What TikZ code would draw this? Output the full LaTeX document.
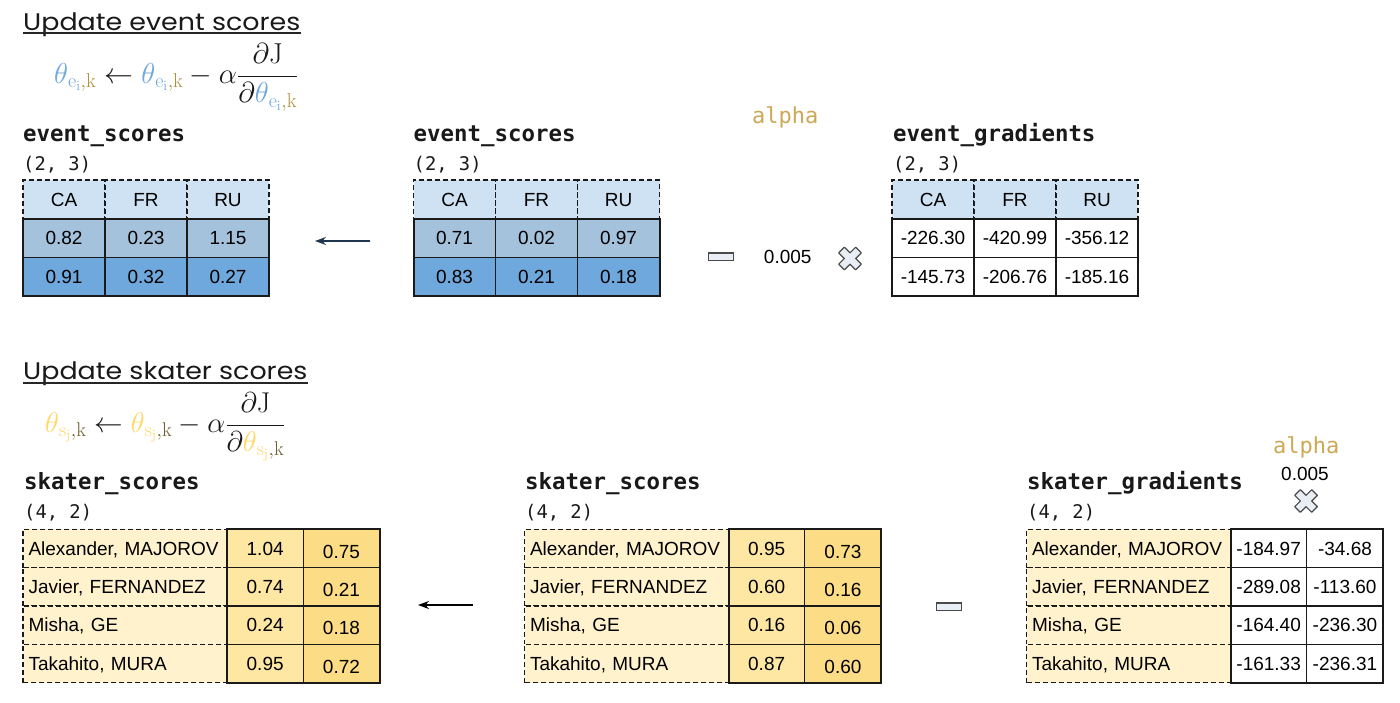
\documentclass[tikz,border=0pt]{standalone}
\usepackage[no-math]{fontspec}
\setmainfont{Liberation Sans}
\setmonofont{DejaVu Sans Mono}
\newfontfamily\titlefont{Poppins}
\usetikzlibrary{arrows.meta}
\definecolor{hdr}{HTML}{CFE2F3}
\definecolor{rowa}{HTML}{A5C2DD}
\definecolor{rowb}{HTML}{6FA8DC}
\definecolor{namec}{HTML}{FFF2CC}
\definecolor{vala}{HTML}{FDE7A2}
\definecolor{valb}{HTML}{FCDC84}
\definecolor{linec}{HTML}{1A1A1A}
\definecolor{evb}{HTML}{6FA8DC}
\definecolor{evk}{HTML}{AD8F36}
\definecolor{skb}{HTML}{FFD966}
\definecolor{skk}{HTML}{6B5A2A}
\definecolor{alphac}{HTML}{CDA955}
\definecolor{navy}{HTML}{1F3550}
\definecolor{opfill}{HTML}{E8EEF3}
\definecolor{opline}{HTML}{4A4A4A}
\newcommand{\tabfnt}{\fontsize{19}{22}\selectfont}
\newcommand{\varfnt}{\ttfamily\bfseries\fontsize{22.4}{26}\selectfont}
\newcommand{\shpfnt}{\ttfamily\fontsize{18.8}{22}\selectfont}
\newcommand{\alpfnt}{\ttfamily\fontsize{22}{26}\selectfont}
\newcommand{\tev}{\textcolor{evb}{\theta}_{\textcolor{evb}{\mathrm{e}_\mathrm{i}}\textcolor{evk}{,\mathrm{k}}}}
\newcommand{\tsk}{\textcolor{skb}{\theta}_{\textcolor{skb}{\mathrm{s}_\mathrm{j}}\textcolor{skk}{,\mathrm{k}}}}
\newcommand{\evhead}[2]{%
  \node[hdrcell] (#1h1) at ({#2+41},199.3) {CA};
  \node[hdrcell] (#1h2) at ({#2+123},199.3) {FR};
  \node[hdrcell] (#1h3) at ({#2+205},199.3) {RU};}
\newcommand{\evrow}[8]{%
  \node[#5] (#1r#2c1) at ({#3+41},#4) {#6};
  \node[#5] (#1r#2c2) at ({#3+123},#4) {#7};
  \node[#5] (#1r#2c3) at ({#3+205},#4) {#8};}
\newcommand{\skrow}[8]{%
  \node[namecell] (#1n#2) at ({#3+102},#4) {#6};
  \node[valA] (#1a#2) at ({#3+242.15},#4) {#7};
  \node[#5] (#1b#2) at ({#3+318.45},#4) {#8};}
\tikzset{
  cellbase/.style={minimum width=82pt, minimum height=38.67pt, inner sep=0pt, outer sep=0pt,
    font=\tabfnt, text height=13.6pt, text depth=0pt},
  hdrcell/.style={cellbase, fill=hdr, draw=linec, line width=1.3pt, dash pattern=on 5pt off 3pt},
  rowA/.style={cellbase, fill=rowa, draw=linec, line width=1.2pt},
  rowB/.style={cellbase, fill=rowb, draw=linec, line width=1.2pt},
  rowW/.style={cellbase, fill=white, draw=linec, line width=1.2pt},
  blockborder/.style={draw=linec, line width=2pt},
  namecell/.style={cellbase, minimum width=204pt, minimum height=38.3pt, fill=namec, draw=linec,
    line width=1.3pt, dash pattern=on 5pt off 3pt, text width=193pt, align=left, inner xsep=5.5pt},
  valA/.style={cellbase, minimum width=76.3pt, minimum height=38.3pt, fill=vala, draw=linec, line width=1.2pt},
  valB/.style={valA, fill=valb, text height=19.6pt},
  valW/.style={valA, fill=white},
  varname/.style={anchor=base west, inner sep=0pt, font=\varfnt, text=black!90},
  shapelbl/.style={anchor=base west, inner sep=0pt, font=\shpfnt, text=black!90},
  alphalbl/.style={anchor=base west, inner sep=0pt, font=\alpfnt, text=alphac},
  numlbl/.style={anchor=base, inner sep=0pt, font=\tabfnt},
  titlenode/.style={anchor=base west, inner sep=0pt, font=\titlefont\fontsize{24}{28}\selectfont, text=black!90},
  underl/.style={line width=1.8pt, draw=black!85},
  formula/.style={anchor=base west, inner sep=0pt, font=\fontsize{24}{28}\selectfont, text=black!90},
  arr/.style={line width=1.3pt, -{Stealth[length=11pt,width=8pt]}},
  minusbox/.style={draw=opline, fill=opfill, line width=1.3pt, minimum width=25pt, minimum height=7.5pt, inner sep=0pt},
  crossshape/.style={draw=opline, fill=opfill, line width=1.2pt, line join=round}
}
\begin{document}
\begin{tikzpicture}[x=1pt,y=-1pt]
\useasboundingbox (0,0) rectangle (1400,702);
\fill[white] (0,0) rectangle (1400,702);

% ---------------- top section ----------------
\node[titlenode] (t1) at (23,30) {\scalebox{1.12}[1]{Update event scores}};
\draw[underl] ([yshift=-3.3pt]t1.base west) -- ([yshift=-3.3pt]t1.base east);
\node[formula] (f1) at (54,83) {\scalebox{1.16}{$\displaystyle \tev \leftarrow \tev - \alpha\frac{\partial\mathrm{J}}{\partial\tev}$}};

% table 1
\node[varname] (v1) at (23,141.5) {event\_scores};
\node[shapelbl] (s1) at (23,170) {(2, 3)};
\evhead{A}{23}
\evrow{A}{1}{23}{238}{rowA}{0.82}{0.23}{1.15}
\evrow{A}{2}{23}{276.67}{rowB}{0.91}{0.32}{0.27}
\draw[blockborder] (Ar1c1.north west) rectangle (Ar2c3.south east);

\coordinate (a1s) at (370,241);
\coordinate (a1e) at (315,241);
\draw[arr, navy] (a1s) -- (a1e);

% table 2
\node[varname] (v2) at (413.5,141.5) {event\_scores};
\node[shapelbl] (s2) at (413.5,170) {(2, 3)};
\evhead{B}{413.5}
\evrow{B}{1}{413.5}{238}{rowA}{0.71}{0.02}{0.97}
\evrow{B}{2}{413.5}{276.67}{rowB}{0.83}{0.21}{0.18}
\draw[blockborder] (Br1c1.north west) rectangle (Br2c3.south east);

\node[minusbox] (m1) at (720.8,256.7) {};
\node[alphalbl] (al1) at (752,123) {alpha};
\node[numlbl] (n1) at (787.7,263.5) {0.005};
\draw[crossshape, shift={(850,258.5)}, rotate=45]
  (-4,-12) -- (4,-12) -- (4,-4) -- (12,-4) -- (12,4) -- (4,4) -- (4,12) -- (-4,12)
  -- (-4,4) -- (-12,4) -- (-12,-4) -- (-4,-4) -- cycle;

% table 3
\node[varname] (v3) at (893,141.5) {event\_gradients};
\node[shapelbl] (s3) at (893,170) {(2, 3)};
\evhead{C}{892}
\evrow{C}{1}{892}{238}{rowW}{-226.30}{-420.99}{-356.12}
\evrow{C}{2}{892}{276.67}{rowW}{-145.73}{-206.76}{-185.16}
\draw[blockborder] (Cr1c1.north west) rectangle (Cr2c3.south east);

% ---------------- bottom section ----------------
\node[titlenode] (t2) at (23,379.5) {\scalebox{1.12}[1]{Update skater scores}};
\draw[underl] ([yshift=-3.3pt]t2.base west) -- ([yshift=-3.3pt]t2.base east);
\node[formula] (f2) at (45,432) {\scalebox{1.15}{$\displaystyle \tsk \leftarrow \tsk - \alpha\frac{\partial\mathrm{J}}{\partial\tsk}$}};

% table 4
\node[varname] (v4) at (24,489.3) {skater\_scores};
\node[shapelbl] (s4) at (24,518) {(4, 2)};
\skrow{D}{1}{23}{548.45}{valB}{Alexander, MAJOROV}{1.04}{0.75}
\skrow{D}{2}{23}{586.75}{valB}{Javier, FERNANDEZ}{0.74}{0.21}
\skrow{D}{3}{23}{625.05}{valB}{Misha, GE}{0.24}{0.18}
\skrow{D}{4}{23}{663.35}{valB}{Takahito, MURA}{0.95}{0.72}
\draw[blockborder] (Da1.north west) rectangle (Db4.south east);

\coordinate (a2s) at (473,605);
\coordinate (a2e) at (418,605);
\draw[arr, black] (a2s) -- (a2e);

% table 5
\node[varname] (v5) at (525,489.3) {skater\_scores};
\node[shapelbl] (s5) at (525,518) {(4, 2)};
\skrow{E}{1}{524.5}{548.45}{valB}{Alexander, MAJOROV}{0.95}{0.73}
\skrow{E}{2}{524.5}{586.75}{valB}{Javier, FERNANDEZ}{0.60}{0.16}
\skrow{E}{3}{524.5}{625.05}{valB}{Misha, GE}{0.16}{0.06}
\skrow{E}{4}{524.5}{663.35}{valB}{Takahito, MURA}{0.87}{0.60}
\draw[blockborder] (Ea1.north west) rectangle (Eb4.south east);

\node[minusbox] (m2) at (949,606.7) {};

% table 6
\node[varname] (v6) at (1027,489.3) {skater\_gradients};
\node[shapelbl] (s6) at (1027,518) {(4, 2)};
\tikzset{valA/.style={cellbase, minimum width=76.3pt, minimum height=38.3pt, fill=white, draw=linec, line width=1.2pt}}
\skrow{F}{1}{1026.5}{548.45}{valW}{Alexander, MAJOROV}{-184.97}{-34.68}
\skrow{F}{2}{1026.5}{586.75}{valW}{Javier, FERNANDEZ}{-289.08}{-113.60}
\skrow{F}{3}{1026.5}{625.05}{valW}{Misha, GE}{-164.40}{-236.30}
\skrow{F}{4}{1026.5}{663.35}{valW}{Takahito, MURA}{-161.33}{-236.31}
\draw[blockborder] (Fa1.north west) rectangle (Fb4.south east);

\node[alphalbl] (al2) at (1273,453) {alpha};
\node[numlbl] (n2) at (1305,480.5) {0.005};
\draw[crossshape, shift={(1306,501)}, rotate=45]
  (-4,-12) -- (4,-12) -- (4,-4) -- (12,-4) -- (12,4) -- (4,4) -- (4,12) -- (-4,12)
  -- (-4,4) -- (-12,4) -- (-12,-4) -- (-4,-4) -- cycle;
\end{tikzpicture}
\end{document}
